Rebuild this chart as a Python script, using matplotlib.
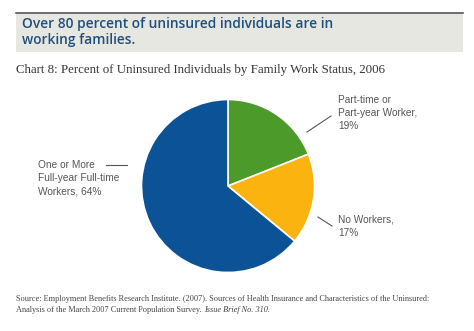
import matplotlib.pyplot as plt
from matplotlib.patches import Rectangle
from matplotlib.lines import Line2D

W, H = 474, 331

labels = ['Part-time or\nPart-year Worker,\n19%', 'No Workers,\n17%',
          'One or More\nFull-year Full-time\nWorkers, 64%']
shares = [19, 17, 64]
colors = ['#4b9a2a', '#fbb30f', '#0b5296']

title = 'Over 80 percent of uninsured individuals are in\nworking families.'
subtitle = 'Chart 8: Percent of Uninsured Individuals by Family Work Status, 2006'
source1 = ('Source: Employment Benefits Research Institute. (2007). Sources of Health '
           'Insurance and Characteristics of the Uninsured:')
source2 = 'Analysis of the March 2007 Current Population Survey. '
source3 = 'Issue Brief No. 310.'


def fx(x):
    return x / W


def fy(y):
    return 1 - y / H


fig = plt.figure(figsize=(W / 100, H / 100), dpi=100)
fig.patch.set_facecolor('white')

# header box
fig.patches.append(Rectangle((fx(16), fy(52)), fx(463) - fx(16), fy(12) - fy(52),
                             transform=fig.transFigure, facecolor='#e7e7e2',
                             edgecolor='none'))
fig.lines.append(Line2D([fx(16), fx(463)], [fy(12.5), fy(12.5)],
                        transform=fig.transFigure, color='#5a5a5a', lw=1.2))
fig.text(fx(22), fy(32), title, color='#1f4f7d', fontsize=9.9,
         family='Open Sans', fontweight='semibold', va='center', ha='left',
         linespacing=1.2)
fig.text(fx(16), fy(70), subtitle, color='#333333', fontsize=9.25,
         family='Liberation Serif', va='center', ha='left')

# pie
cx, cy, r = 228, 186, 86.5
ax = fig.add_axes([fx(cx - r), fy(cy + r), 2 * r / W, 2 * r / H])
ax.pie(shares, colors=colors, startangle=90, counterclock=False,
       wedgeprops=dict(edgecolor='white', linewidth=1.2))
ax.set_xlim(-1, 1)
ax.set_ylim(-1, 1)
ax.set_aspect('auto')
ax.axis('off')

# labels with leader lines
lab_pos = [(338, 113), (338, 226), (38, 178)]
lead = [((307, 132), (331, 116)), ((318, 217), (332, 226)),
        ((106, 164.5), (127, 164.5))]
for txt, (tx, ty), (p0, p1) in zip(labels, lab_pos, lead):
    fig.text(fx(tx), fy(ty), txt, color='#555555', fontsize=7.3,
             family='Liberation Sans', va='center', ha='left', linespacing=1.4)
    fig.lines.append(Line2D([fx(p0[0]), fx(p1[0])], [fy(p0[1]), fy(p1[1])],
                            transform=fig.transFigure, color='#555555', lw=0.8))

# source
fig.text(fx(16), fy(299), source1, color='#444444', fontsize=5.95,
         family='Liberation Serif', va='center', ha='left')
t = fig.text(fx(16), fy(310), source2, color='#444444', fontsize=5.95,
             family='Liberation Serif', va='center', ha='left')
fig.canvas.draw()
bb = t.get_window_extent()
fig.text(bb.x1 / fig.bbox.width, fy(310), source3, color='#444444', fontsize=5.95,
         family='Liberation Serif', style='italic', va='center', ha='left')

fig.savefig('out.png', dpi=100)
